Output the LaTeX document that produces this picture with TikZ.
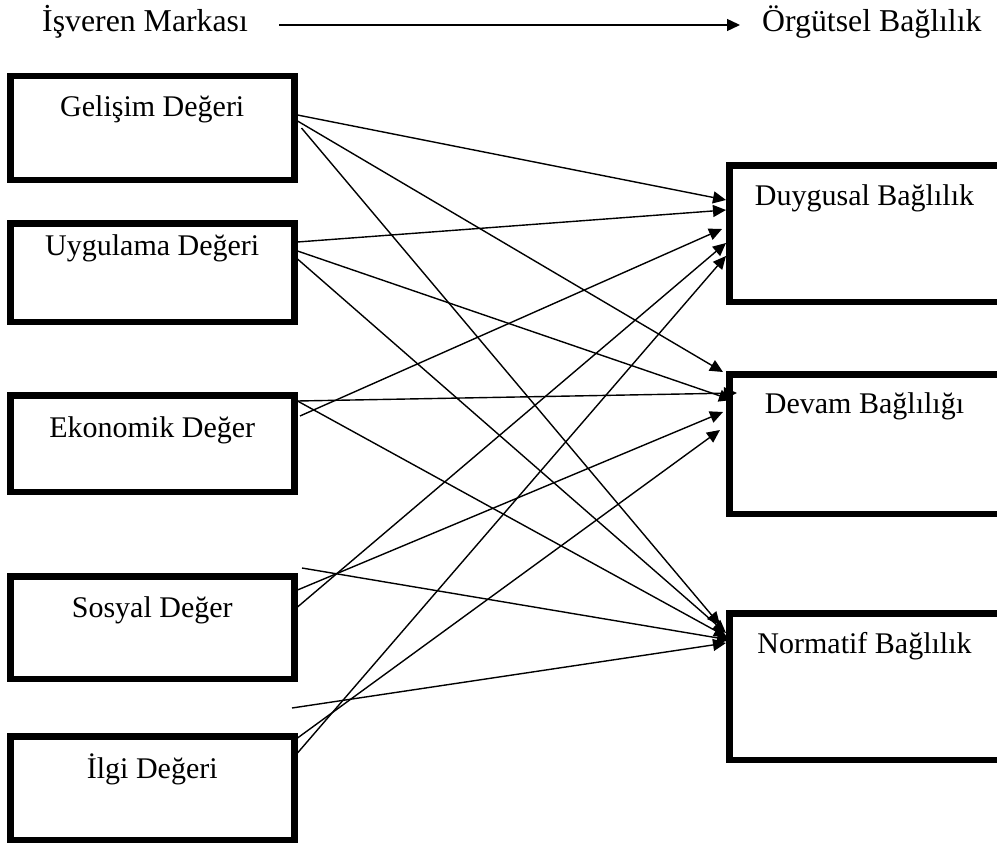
\documentclass[tikz,border=0pt]{standalone}
\usepackage{fontspec}
\setmainfont{Liberation Serif}
\usepackage{tikz}
\usetikzlibrary{arrows.meta}

\begin{document}
\begin{tikzpicture}[x=1pt, y=-1pt,
    valuebox/.style 2 args={draw, line width=6.5pt, inner sep=0pt, anchor=north west,
        minimum width=284pt, text height=#1, text depth=#2,
        font=\fontsize{30}{36}\selectfont},
    commitbox/.style 2 args={valuebox={#1}{#2}, minimum width=270.5pt},
    link/.style={line width=1.4pt, -{Triangle[length=13pt,width=12pt]}}]
    \useasboundingbox (0,0) rectangle (997,843);

    \node[anchor=base west, inner sep=0pt, font=\fontsize{31.8}{38}\selectfont] (marka) at (42,32) {İşveren Markası};
    \node[anchor=base west, inner sep=0pt, font=\fontsize{31.8}{38}\selectfont] (baglilik) at (762,32) {Örgütsel Bağlılık};
    \draw[link] ([xshift=31pt,yshift=7pt]marka.base east) -- ([xshift=-22pt,yshift=7pt]baglilik.base west);

    % left column
    \node[valuebox={40.75pt}{62.75pt}] (gelisim) at (7,73) {Gelişim Değeri};
    \node[valuebox={31.75pt}{66.75pt}] (uygulama) at (7,220) {Uygulama Değeri};
    \node[valuebox={41.75pt}{54.75pt}] (ekonomik) at (7,392) {Ekonomik Değer};
    \node[valuebox={40.75pt}{61.75pt}] (sosyal) at (7,573) {Sosyal Değer};
    \node[valuebox={41.75pt}{61.75pt}] (ilgi) at (7,733) {İlgi Değeri};

    % right column
    \node[commitbox={39.75pt}{96.75pt}] (duygusal) at (726,162) {Duygusal Bağlılık};
    \node[commitbox={38.75pt}{100.75pt}] (devam) at (726,371) {Devam Bağlılığı};
    \node[commitbox={39.75pt}{106.75pt}] (normatif) at (726,610) {Normatif Bağlılık};

    \draw[link] ([yshift=-42pt]gelisim.north east) -- ([yshift=-38pt]duygusal.north west);
    \draw[link] ([yshift=-48pt]gelisim.north east) -- ([xshift=-3pt,yshift=-1pt]devam.north west);
    \draw[link] ([xshift=4pt,yshift=-55pt]gelisim.north east) -- ([xshift=-6pt,yshift=-15pt]normatif.north west);

    \draw[link] ([yshift=-22pt]uygulama.north east) -- ([yshift=-48pt]duygusal.north west);
    \draw[link] ([yshift=-31pt]uygulama.north east) -- ([xshift=6pt,yshift=-29pt]devam.north west);
    \draw[link] ([yshift=-39pt]uygulama.north east) -- ([yshift=-23pt]normatif.north west);

    \draw[link] ([yshift=-9pt]ekonomik.north east) -- ([xshift=11pt,yshift=-22pt]devam.north west);
    \draw[link] ([xshift=2.5pt,yshift=-24pt]ekonomik.north east) -- ([xshift=-4pt,yshift=-67pt]duygusal.north west);
    \draw[link] ([yshift=-9pt]ekonomik.north east) -- ([xshift=1pt,yshift=-27pt]normatif.north west);

    \draw[link] ([xshift=4.5pt,yshift=5pt]sosyal.north east) -- ([xshift=4pt,yshift=-30pt]normatif.north west);
    \draw[link] ([yshift=-17pt]sosyal.north east) -- ([xshift=-3pt,yshift=-41pt]devam.north west);
    \draw[link] ([yshift=-34pt]sosyal.north east) -- ([yshift=-81pt]duygusal.north west);

    \draw[link] ([xshift=-5.5pt,yshift=25pt]ilgi.north east) -- ([yshift=-33pt]normatif.north west);
    \draw[link] ([yshift=-5pt]ilgi.north east) -- ([xshift=-6pt,yshift=-59pt]devam.north west);
    \draw[link] ([yshift=-20pt]ilgi.north east) -- ([yshift=-94pt]duygusal.north west);
\end{tikzpicture}
\end{document}
